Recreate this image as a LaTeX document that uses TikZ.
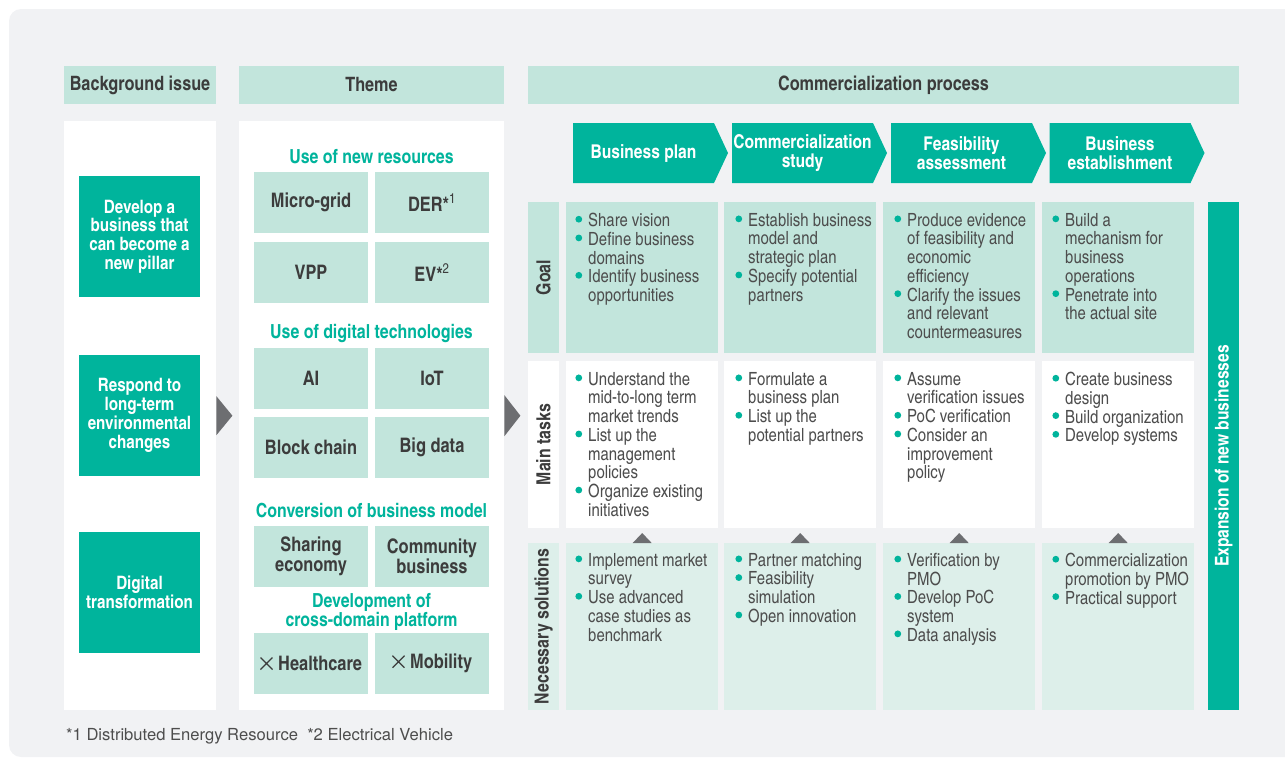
\documentclass[tikz,border=0pt]{standalone}
\usepackage{fontspec}
\setmainfont{TeX Gyre Heros}
\newfontfamily\cnfont{texgyreheroscn}[Extension=.otf, UprightFont=*-regular, BoldFont=*-bold]
\usepackage{xcolor}
\usetikzlibrary{positioning,shapes.symbols}
\definecolor{procteal}{RGB}{0,180,156}
\definecolor{mintbox}{RGB}{194,229,220}
\definecolor{palemint}{RGB}{221,239,234}
\definecolor{panelgray}{RGB}{241,242,244}
\definecolor{arrowgray}{RGB}{109,110,113}
\definecolor{labeltext}{RGB}{60,60,60}
\definecolor{itemtext}{RGB}{77,77,77}
\newcommand{\bl}{\llap{\tikz[baseline=0pt]\fill[procteal] (0pt,7.4pt) circle (3.4pt);\hspace{6pt}}}
\newcommand{\crossmark}{\tikz[baseline=0pt]\draw[labeltext, line width=1.3pt]
  (0pt,1pt) -- (12pt,13pt) (0pt,13pt) -- (12pt,1pt);\hspace{5pt}}
\tikzset{
  hdr/.style={fill=mintbox, minimum height=38pt, inner sep=0pt, text=labeltext,
    font=\cnfont\bfseries\fontsize{19.8}{21}\selectfont},
  panel/.style={fill=white, minimum height=589pt, inner sep=0pt, anchor=north west},
  issue/.style={fill=procteal, minimum width=121pt, minimum height=121pt, inner sep=0pt,
    text=white, align=center, font=\cnfont\bfseries\fontsize{18.5}{18.8}\selectfont},
  themebox/.style={fill=mintbox, minimum width=114pt, minimum height=61pt, inner sep=0pt,
    text=labeltext, align=center, font=\cnfont\bfseries\fontsize{20}{20}\selectfont},
  themecat/.style={text=procteal, align=center, inner sep=0pt,
    font=\cnfont\bfseries\fontsize{19.4}{19.5}\selectfont},
  stage/.style={signal, signal to=east, signal pointer angle=130, fill=procteal,
    minimum width=155pt, minimum height=60pt, inner sep=0pt, text=white, align=center,
    font=\cnfont\bfseries\fontsize{19}{19.5}\selectfont},
  cell/.style={minimum width=152pt, inner sep=0pt, anchor=north west},
  rowlab/.style={minimum height=31pt, inner sep=0pt, rotate=90, text=labeltext,
    font=\cnfont\bfseries\fontsize{19.4}{19.5}\selectfont},
  items/.style={anchor=north west, inner sep=0pt, align=left, text=itemtext,
    font=\cnfont\fontsize{18.2}{18.7}\selectfont},
}
\begin{document}
\begin{tikzpicture}[x=1pt,y=-1pt]
\useasboundingbox (0,0) rectangle (1285,758);
% grey backdrop
\fill[panelgray, rounded corners=12pt] (9,9) rectangle (1310,757);
% column headers
\node[hdr, minimum width=152pt] (bghdr) at (140,85) {Background issue};
\node[hdr, minimum width=265pt] (themehdr) at (371.5,85) {Theme};
\node[hdr, minimum width=711pt] (prochdr) at (883.5,85) {Commercialization process};
% white panels
\node[panel, minimum width=152pt] (bgpanel) at (64,121) {};
\node[panel, minimum width=265pt] (themepanel) at (239,121) {};
% background issues
\node[issue] (pillar) at (139.5,236.5) {Develop a\\business that\\can become a\\new pillar};
\node[issue] (envchg) at (139.5,415.5) {Respond to\\long-term\\environmental\\changes};
\node[issue] (dx) at (139.5,592.5) {Digital\\transformation};
% themes
\node[themecat] (catres) at (371.5,157) {Use of new resources};
\node[themebox] (mgrid) at (311,202.5) {Micro-grid};
\node[themebox] (der) at (432,202.5) {DER*\textsuperscript{\mdseries 1}};
\node[themebox] (vpp) at (311,272.5) {VPP};
\node[themebox] (ev) at (432,272.5) {EV*\textsuperscript{\mdseries 2}};
\node[themecat] (catdig) at (371.5,333) {Use of digital technologies};
\node[themebox] (ai) at (311,378.5) {AI};
\node[themebox] (iot) at (432,378.5) {IoT};
\node[themebox] (bchain) at (311,447.5) {Block chain};
\node[themebox] (bdata) at (432,447.5) {Big data};
\node[themecat] (catmod) at (371.5,511) {Conversion of business model};
\node[themebox] (share) at (311,556.5) {Sharing\\economy};
\node[themebox] (commu) at (432,556.5) {Community\\business};
\node[themecat] (catplat) at (371.5,612) {Development of\\cross-domain platform};
\node[themebox] (health) at (311,663.5) {\crossmark Healthcare};
\node[themebox] (mobil) at (432,663.5) {\crossmark Mobility};
% arrows between panels
\fill[arrowgray] ([yshift=19.5pt]bgpanel.east) -- ([xshift=16pt]bgpanel.east)
  -- ([yshift=-19.5pt]bgpanel.east) -- cycle;
\fill[arrowgray] ([yshift=20.5pt]themepanel.east) -- ([xshift=16pt]themepanel.east)
  -- ([yshift=-20.5pt]themepanel.east) -- cycle;
% process stages
\node[stage] (stplan) at (643.5,153) {Business plan};
\node[stage] (ststudy) at (802.5,153) {Commercialization\\study};
\node[stage] (stfeas) at (961.5,153) {Feasibility\\assessment};
\node[stage] (stestab) at (1120,153) {Business\\establishment};
% row labels
\node[rowlab, fill=mintbox, minimum width=151pt] (lgoal) at (543.5,277.5) {Goal};
\node[rowlab, fill=white, minimum width=167pt] (ltask) at (543.5,444.5) {Main tasks};
\node[rowlab, fill=palemint, minimum width=167pt] (lsol) at (543.5,626.5) {Necessary solutions};
% table cells
\foreach \c/\x in {A/566,B/724,C/883,D/1042}{
  \node[cell, fill=mintbox, minimum height=151pt] (goal\c) at (\x,202) {};
  \node[cell, fill=white, minimum height=167pt] (task\c) at (\x,361) {};
  \node[cell, fill=palemint, minimum height=167pt] (sol\c) at (\x,543) {};
  \fill[arrowgray] ([xshift=-9.5pt]sol\c.north) -- ([yshift=10pt]sol\c.north)
    -- ([xshift=9.5pt]sol\c.north) -- cycle;
}
% goals
\node[items] (gtxtA) at (588,213) {\bl Share vision\\\bl Define business\\domains\\\bl Identify business\\opportunities};
\node[items] (gtxtB) at (748,213) {\bl Establish business\\model and\\strategic plan\\\bl Specify potential\\partners};
\node[items] (gtxtC) at (907,213) {\bl Produce evidence\\of feasibility and\\economic\\efficiency\\\bl Clarify the issues\\and relevant\\countermeasures};
\node[items] (gtxtD) at (1065,213) {\bl Build a\\mechanism for\\business\\operations\\\bl Penetrate into\\the actual site};
% main tasks
\node[items] (ttxtA) at (588,372) {\bl Understand the\\mid-to-long term\\market trends\\\bl List up the\\management\\policies\\\bl Organize existing\\initiatives};
\node[items] (ttxtB) at (748,372) {\bl Formulate a\\business plan\\\bl List up the\\potential partners};
\node[items] (ttxtC) at (907,372) {\bl Assume\\verification issues\\\bl PoC verification\\\bl Consider an\\improvement\\policy};
\node[items] (ttxtD) at (1065,372) {\bl Create business\\design\\\bl Build organization\\\bl Develop systems};
% necessary solutions
\node[items] (stxtA) at (588,553) {\bl Implement market\\survey\\\bl Use advanced\\case studies as\\benchmark};
\node[items] (stxtB) at (748,553) {\bl Partner matching\\\bl Feasibility\\simulation\\\bl Open innovation};
\node[items] (stxtC) at (907,553) {\bl Verification by\\PMO\\\bl Develop PoC\\system\\\bl Data analysis};
\node[items] (stxtD) at (1065,553) {\bl Commercialization\\promotion by PMO\\\bl Practical support};
% expansion bar
\node[fill=procteal, minimum width=508pt, minimum height=31pt, inner sep=0pt, rotate=90,
  text=white, font=\cnfont\bfseries\fontsize{19}{19}\selectfont] (expbar) at (1223.5,456) {Expansion of new businesses};
% footnote
\node[anchor=west, inner sep=0pt, text=itemtext, font=\fontsize{16.6}{18}\selectfont] (notes) at (66,736)
  {*1 Distributed Energy Resource\ \ *2 Electrical Vehicle};
\end{tikzpicture}
\end{document}
